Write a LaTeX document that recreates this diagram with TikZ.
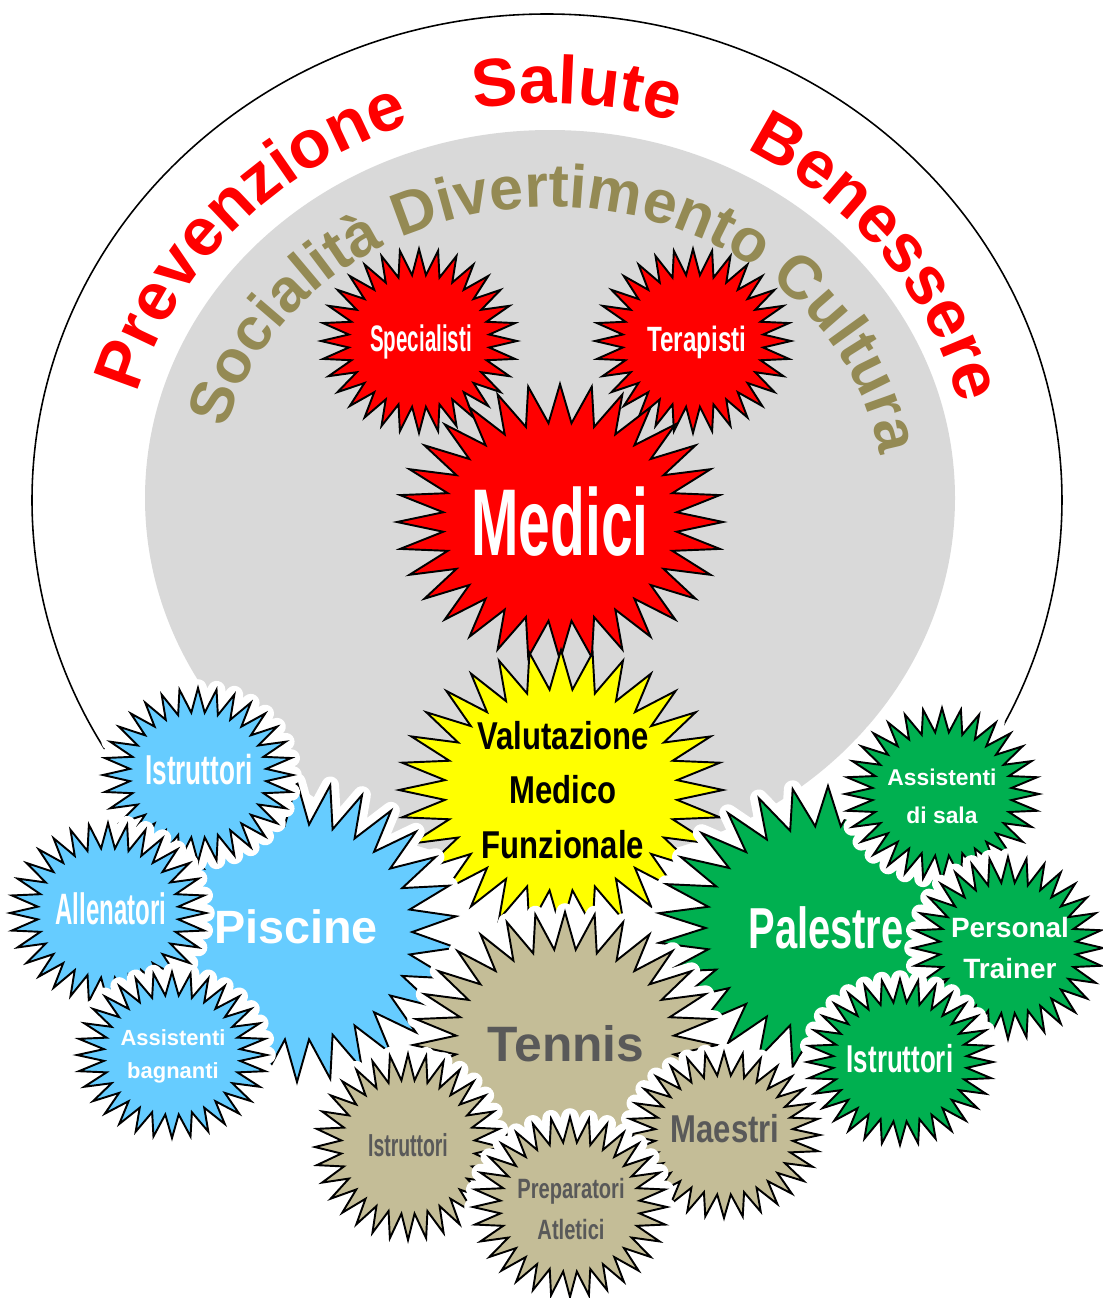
\documentclass[tikz,border=0pt]{standalone}
\usepackage{fontspec}
\setmainfont{Liberation Sans}
\usepackage{graphicx}
\usetikzlibrary{decorations.text}

\definecolor{sunny}{HTML}{FFFF00}
\definecolor{pool}{HTML}{66CCFF}
\definecolor{gym}{HTML}{00B050}
\definecolor{clay}{HTML}{C4BD97}
\definecolor{olivetxt}{HTML}{948A54}
\definecolor{discgray}{HTML}{D9D9D9}
\definecolor{darktxt}{HTML}{595959}

\newcommand\sz[2]{\fontsize{#1}{#2}\selectfont}
\newcommand\nw[2]{\scalebox{#1}[1]{#2}}
% #2,#3 centre, #4,#5 radii, #6 points
\newcommand\burst[6][]{%
  \draw[spikes, #1, shift={(#2,#3)}, xscale=#4, yscale=#5]
    (90:1) \foreach \k in {1,...,#6} {-- ({90+(\k-.5)*360/#6}:.72) -- ({90+\k*360/#6}:1)} -- cycle;}

\tikzset{
  spikes/.style={draw=black, line width=1.1pt},
  glow/.style={preaction={draw=white, line width=10pt, line join=round}},
  lbl/.style={inner sep=0pt, align=center},
}

\begin{document}
\begin{tikzpicture}[x=0.02cm, y=0.02cm]
  \useasboundingbox (0,0) rectangle (1102,-1298);
  \coordinate (outer) at (547,-500);
  \coordinate (inner) at (550,-498);

  \draw[line width=0.9pt] ([shift={(222:515 and 486)}]outer) arc[start angle=222, end angle=-42, x radius=515, y radius=486];
  \fill[discgray] (inner) ellipse [x radius=405, y radius=368];

  \path[decorate, decoration={text along path, text align=center, text color=red,
      text={|\sz{38.6}{38.6}\bfseries|Prevenzione}}]
    ([shift={(177:425 and 397)}]outer) arc[start angle=177, end angle=97, x radius=425, y radius=397];
  \path[decorate, decoration={text along path, text align=center, text color=red,
      text={|\sz{38.6}{38.6}\bfseries|Salute}}]
    ([shift={(121:425 and 397)}]outer) arc[start angle=121, end angle=51, x radius=425, y radius=397];
  \path[decorate, decoration={text along path, text align=center, text color=red,
      text={|\sz{38.6}{38.6}\bfseries|Benessere}}]
    ([shift={(77:425 and 397)}]outer) arc[start angle=77, end angle=-2, x radius=425, y radius=397];

  \burst[fill=red]{419}{-341}{98}{92}{32}
  \node[lbl, text=white, font=\bfseries\sz{21}{21}] (spec) at (421,-342) {\nw{.557}{Specialisti}};
  \burst[fill=red]{693}{-341}{98}{92}{32}
  \node[lbl, text=white, font=\bfseries\sz{20}{20}] (ter) at (697,-342) {\nw{.69}{Terapisti}};

  \path[decorate, decoration={text along path, text align=center, text color=olivetxt,
      text={|\sz{34.6}{34.6}\bfseries|Socialità Divertimento Cultura}}]
    ([shift={(176.3:333 and 291)}]inner) arc[start angle=176.3, end angle=-1.7, x radius=333, y radius=291];

  \burst[fill=red]{560}{-522}{163}{138}{32}
  \node[lbl, text=white, font=\bfseries\sz{54}{54}] (medici) at (560,-522) {\nw{.6}{Medici}};
  \burst[fill=sunny]{561}{-790}{162}{140}{32}
  \node[lbl, font=\bfseries\sz{22.1}{31.2}] (valut) at (563,-790)
    {\nw{.8}{Valutazione}\\\nw{.8}{Medico}\\\nw{.8}{Funzionale}};

  \burst[glow, fill=pool]{297}{-932}{160}{150}{30}
  \node[lbl, text=white, font=\bfseries\sz{26.6}{26.6}] (piscine) at (296,-927) {Piscine};
  \burst[glow, fill=gym]{828}{-928}{170}{142}{30}
  \node[lbl, text=white, font=\bfseries\sz{32.9}{32.9}] (palestre) at (826,-928) {\nw{.69}{Palestre}};
  \burst[glow, fill=clay]{565}{-1045}{152}{133}{32}
  \node[lbl, text=darktxt, font=\bfseries\sz{28.3}{28.3}] (tennis) at (566,-1044) {Tennis};

  \burst[glow, fill=pool]{198}{-775}{95}{87}{32}
  \node[lbl, text=white, font=\bfseries\sz{23.8}{23.8}] (istrB) at (199,-770) {\nw{.625}{Istruttori}};
  \burst[glow, fill=pool]{108}{-913}{98}{90}{32}
  \node[lbl, text=white, font=\bfseries\sz{25}{25}] (allen) at (111,-909) {\nw{.547}{Allenatori}};
  \burst[glow, fill=pool]{172}{-1055}{95}{83}{32}
  \node[lbl, text=white, font=\bfseries\sz{12.5}{18.7}] (assB) at (173,-1056) {Assistenti\\bagnanti};

  \burst[glow, fill=gym]{942}{-794}{97}{86}{32}
  \node[lbl, text=white, font=\bfseries\sz{13}{21.5}] (assS) at (942,-796) {Assistenti\\di sala};
  \burst[glow, fill=gym]{1008}{-948}{95}{91}{32}
  \node[lbl, text=white, font=\bfseries\sz{15.9}{23.8}] (personal) at (1010,-948) {Personal\\Trainer};
  \burst[glow, fill=gym]{900}{-1062}{93}{83}{32}
  \node[lbl, text=white, font=\bfseries\sz{22.1}{22.1}] (istrG) at (900,-1059) {\nw{.667}{Istruttori}};

  \burst[glow, fill=clay]{408}{-1147}{93}{93}{32}
  \node[lbl, text=darktxt, font=\bfseries\sz{18.1}{18.1}] (istrT) at (408,-1145) {\nw{.61}{Istruttori}};
  \burst[glow, fill=clay]{724}{-1135}{96}{83}{32}
  \node[lbl, text=darktxt, font=\bfseries\sz{22.1}{22.1}] (maestri) at (725,-1129) {\nw{.8}{Maestri}};
  \burst[glow, fill=clay]{570}{-1207}{97}{90}{32}
  \node[lbl, text=darktxt, font=\bfseries\sz{15.9}{23.8}] (prep) at (571,-1209)
    {\nw{.72}{Preparatori}\\\nw{.72}{Atletici}};
\end{tikzpicture}
\end{document}
